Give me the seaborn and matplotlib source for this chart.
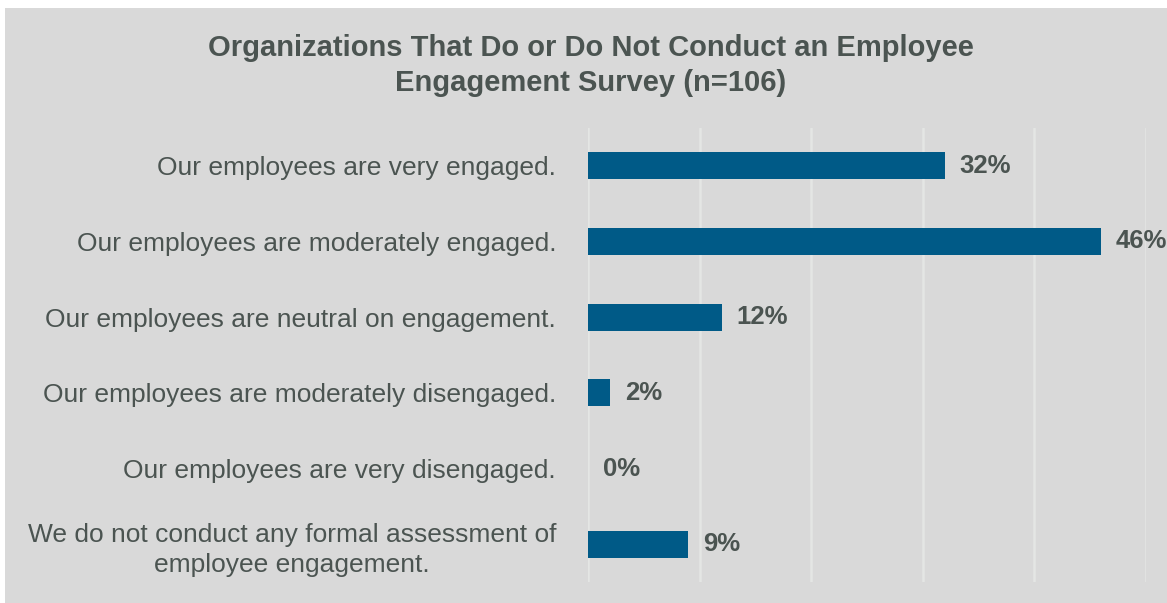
import matplotlib
matplotlib.use("Agg")
import matplotlib.pyplot as plt
import matplotlib.patches as mpatches
import seaborn as sns
import pandas as pd

categories = [
    "Our employees are very engaged.",
    "Our employees are moderately engaged.",
    "Our employees are neutral on engagement.",
    "Our employees are moderately disengaged.",
    "Our employees are very disengaged.",
    "We do not conduct any formal assessment of\nemployee engagement.",
]
percentages = [32, 46, 12, 2, 0, 9]
x_ticks = [0, 10, 20, 30, 40, 50]

title = "Organizations That Do or Do Not Conduct an Employee\nEngagement Survey (n=106)"

BG = "#d9d9d9"
BAR = "#005a87"
TEXT = "#4b5451"
GRID = "#e4e6e4"

df = pd.DataFrame({"category": categories, "pct": percentages})

sns.set_theme(style="white")
plt.rcParams["font.family"] = ["Liberation Sans", "DejaVu Sans"]

fig = plt.figure(figsize=(11.67, 6.03), dpi=100, facecolor="white")
# grey chart panel
fig.patches.append(mpatches.Rectangle((5 / 1167, 0), 1, 1 - 8 / 603,
                                      transform=fig.transFigure,
                                      facecolor=BG, edgecolor="none", zorder=-10))

ax = fig.add_axes([588 / 1167, 1 - 582 / 603, (1146 - 588) / 1167, (582 - 128) / 603])
ax.set_facecolor(BG)

sns.barplot(data=df, x="pct", y="category", orient="h", color=BAR,
            width=0.36, saturation=1, linewidth=0, ax=ax, zorder=3)

ax.set_xlim(0, 50)
ax.set_ylim(5.5, -0.5)
ax.set_xticks(x_ticks)
ax.xaxis.grid(True, color=GRID, linewidth=1.8, zorder=0)
ax.set_axisbelow(True)
ax.tick_params(axis="x", bottom=False, labelbottom=False)
ax.tick_params(axis="y", left=False, pad=17)
ax.set_xlabel("")
ax.set_ylabel("")
for s in ax.spines.values():
    s.set_visible(False)

for lbl in ax.get_yticklabels():
    lbl.set_fontsize(19)
    lbl.set_color(TEXT)
    lbl.set_multialignment("center")
    lbl.set_linespacing(1.32)

for i, v in enumerate(percentages):
    ax.annotate(f"{v}%", xy=(v, i), xytext=(10.5, 0), textcoords="offset points",
                ha="left", va="center", fontsize=18.5, fontweight="bold",
                color=TEXT, annotation_clip=False)

fig.text(591 / 1167, 1 - 65.5 / 603, title, ha="center", va="center",
         fontsize=21, fontweight="bold", color=TEXT, linespacing=1.28)

fig.savefig("out.png", dpi=100, facecolor="white")
